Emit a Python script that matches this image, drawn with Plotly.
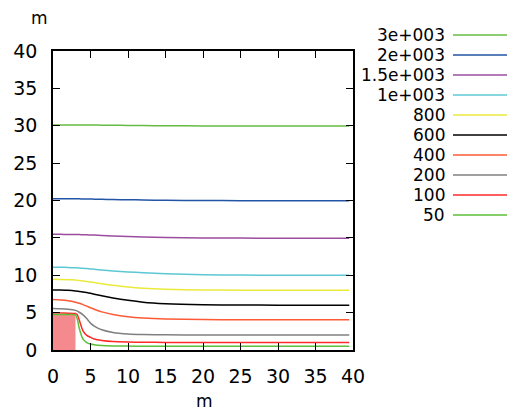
import plotly.graph_objects as go

# Shared x positions (m)
x = [0, 1, 2, 3, 3.25, 3.5, 4, 4.5, 5, 5.5, 6.5, 8, 10, 12, 15, 20, 25, 30, 35, 39.5]

labels = ["3e+003", "2e+003", "1.5e+003", "1e+003", "800", "600", "400", "200", "100", "50"]

q3000 = [30.1, 30.1, 30.1, 30.1, 30.1, 30.1, 30.1, 30.1, 30.09, 30.09, 30.08, 30.07, 30.05, 30.03, 30.0, 29.98, 29.96, 29.95, 29.95, 29.95]
q2000 = [20.25, 20.25, 20.24, 20.23, 20.23, 20.22, 20.21, 20.2, 20.19, 20.18, 20.16, 20.13, 20.1, 20.07, 20.03, 20.0, 19.98, 19.97, 19.96, 19.96]
q1500 = [15.47, 15.47, 15.46, 15.45, 15.45, 15.44, 15.43, 15.41, 15.39, 15.37, 15.33, 15.26, 15.18, 15.11, 15.04, 14.99, 14.97, 14.96, 14.96, 14.96]
q1000 = [11.08, 11.07, 11.05, 11.0, 10.98, 10.97, 10.93, 10.89, 10.85, 10.8, 10.7, 10.58, 10.45, 10.33, 10.2, 10.07, 10.02, 10.0, 10.0, 10.0]
q800 = [9.45, 9.44, 9.41, 9.35, 9.33, 9.3, 9.24, 9.17, 9.1, 9.02, 8.87, 8.65, 8.42, 8.26, 8.12, 8.03, 8.0, 8.0, 8.0, 8.0]
q600 = [8.04, 8.02, 7.98, 7.9, 7.87, 7.84, 7.77, 7.68, 7.58, 7.47, 7.26, 6.97, 6.65, 6.4, 6.2, 6.06, 6.02, 6.0, 6.0, 6.0]
q400 = [6.75, 6.7, 6.6, 6.4, 6.33, 6.25, 6.07, 5.87, 5.65, 5.45, 5.1, 4.75, 4.45, 4.28, 4.15, 4.08, 4.05, 4.05, 4.05, 4.05]
q200 = [5.55, 5.52, 5.45, 5.3, 5.2, 5.05, 4.7, 4.2, 3.6, 3.2, 2.7, 2.35, 2.15, 2.07, 2.03, 2.0, 2.0, 2.0, 2.0, 2.0]
q100 = [4.95, 4.95, 4.93, 4.88, 4.7, 4.0, 2.55, 1.95, 1.7, 1.47, 1.28, 1.13, 1.07, 1.04, 1.02, 1.0, 1.0, 1.0, 1.0, 1.0]
q50 = [4.75, 4.75, 4.75, 4.7, 4.1, 2.9, 1.45, 1.0, 0.8, 0.7, 0.6, 0.55, 0.52, 0.5, 0.5, 0.5, 0.5, 0.5, 0.5, 0.5]

series = [q3000, q2000, q1500, q1000, q800, q600, q400, q200, q100, q50]
colors = ["#66bb44", "#2255a5", "#9b4ea0", "#5cc8d4", "#eaea3c", "#000000",
          "#ff5a36", "#808080", "#ff2a2a", "#5cbf3a"]

# Step obstacle
block_x = [0, 3, 3, 0, 0]
block_y = [0, 0, 4.7, 4.7, 0]

fig = go.Figure()
fig.add_trace(go.Scatter(x=block_x, y=block_y, fill="toself", mode="none",
                         fillcolor="#f48a8e", showlegend=False, hoverinfo="skip"))

for lab, ys, c in zip(labels, series, colors):
    fig.add_trace(go.Scatter(x=x, y=ys, mode="lines", name=lab,
                             line=dict(color=c, width=1.5, shape="spline", smoothing=0.6),
                             showlegend=False))

font = "DejaVu Sans, sans-serif"
H = 299.0
W = 300.0
annotations = []
shapes = []
for i, (lab, c) in enumerate(zip(labels, colors)):
    py = 35 + 20 * i
    yp = (350 - py) / H
    annotations.append(dict(x=(446 - 53) / W, y=yp, xref="paper", yref="paper",
                            text=lab, showarrow=False, xanchor="right", yanchor="middle",
                            borderpad=0,
                            font=dict(family=font, size=17, color="black")))
    shapes.append(dict(type="line", xref="paper", yref="paper",
                       x0=(453 - 53) / W, x1=(507 - 53) / W, y0=yp, y1=yp,
                       line=dict(color=c, width=1.5)))

annotations.append(dict(x=(39 - 53) / W, y=(350 - 18) / H, xref="paper", yref="paper",
                        text="m", showarrow=False, xanchor="center", yanchor="middle",
                        font=dict(family=font, size=17, color="black")))
annotations.append(dict(x=(204 - 53) / W, y=(350 - 401) / H, xref="paper", yref="paper",
                        text="m", showarrow=False, xanchor="center", yanchor="middle",
                        font=dict(family=font, size=17, color="black")))

axis_common = dict(showgrid=False, zeroline=False, showline=True, linecolor="black",
                   linewidth=1.5, mirror="ticks", ticks="inside", ticklen=7,
                   tickcolor="black", tickwidth=1,
                   tickfont=dict(family=font, size=19, color="black"))

fig.update_layout(
    width=511, height=414,
    margin=dict(l=53, r=158, t=51, b=64),
    plot_bgcolor="white", paper_bgcolor="white",
    xaxis=dict(range=[0, 40], tickvals=[0, 5, 10, 15, 20, 25, 30, 35, 40],
               ticklabelstandoff=8, **axis_common),
    yaxis=dict(range=[0, 40], tickvals=[0, 5, 10, 15, 20, 25, 30, 35, 40],
               ticklabelstandoff=10, **axis_common),
    annotations=annotations, shapes=shapes, showlegend=False,
)

fig.write_html("out.html", config={"displayModeBar": False},
               post_script="document.body.style.margin='0';")
